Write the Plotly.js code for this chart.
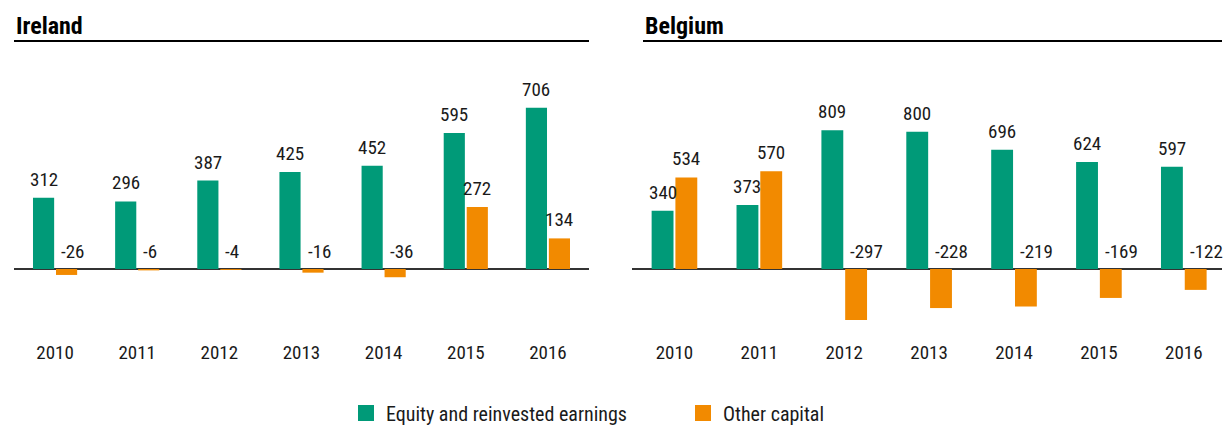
<!DOCTYPE html>
<html>
<head>
<meta charset="utf-8">
<script src="https://cdn.plot.ly/plotly-3.0.1.min.js"></script>
<style>html,body{margin:0;padding:0;background:#fff;}#chart{width:1224px;height:427px;}</style>
</head>
<body>
<div id="chart"></div>
<script>
const years = ['2010', '2011', '2012', '2013', '2014', '2015', '2016'];
const irelandEquity = [312, 296, 387, 425, 452, 595, 706];
const irelandOther = [-26, -6, -4, -16, -36, 272, 134];
const belgiumEquity = [340, 373, 809, 800, 696, 624, 597];
const belgiumOther = [534, 570, -297, -228, -219, -169, -122];
const seriesNames = ['Equity and reinvested earnings', 'Other capital'];
const panelTitles = ['Ireland', 'Belgium'];

const GREEN = '#009A78';
const ORANGE = '#F28A00';
const FONT = 'Roboto Condensed, Liberation Sans, sans-serif';
const W = 1224, H = 427;
const px = v => v / W;
const py = v => 1 - v / H;

function bar(x, y, name, color, xa, ya) {
  return {type: 'bar', x: x, y: y, name: name, marker: {color: color},
    xaxis: xa, yaxis: ya, showlegend: false, hoverinfo: 'none'};
}

const traces = [
  bar(years, irelandEquity, seriesNames[0], GREEN, 'x', 'y'),
  bar(years, irelandOther, seriesNames[1], ORANGE, 'x', 'y'),
  bar(years, belgiumEquity, seriesNames[0], GREEN, 'x2', 'y2'),
  bar(years, belgiumOther, seriesNames[1], ORANGE, 'x2', 'y2'),
  {type: 'scatter', mode: 'markers', x: [null], y: [null], name: seriesNames[0],
   marker: {symbol: 'square', size: 16, color: GREEN}, xaxis: 'x', yaxis: 'y', hoverinfo: 'none'},
  {type: 'scatter', mode: 'markers', x: [null], y: [null], name: seriesNames[1],
   marker: {symbol: 'square', size: 16, color: ORANGE}, xaxis: 'x', yaxis: 'y', hoverinfo: 'none'}
];

function valueLabels(xa, ya, eq, oth, slot) {
  const out = [];
  const font = {family: FONT, size: 19, color: '#1a1a1a'};
  years.forEach((yr, i) => {
    out.push({xref: xa, yref: ya, showarrow: false, yanchor: 'bottom', font: font,
      x: i, y: Math.max(eq[i], 0), text: String(eq[i]), xanchor: 'center', xshift: -slot / 2, yshift: 5});
    const v = oth[i];
    if (v >= 0) {
      out.push({xref: xa, yref: ya, showarrow: false, yanchor: 'bottom', font: font,
        x: i, y: v, text: String(v), xanchor: 'center', xshift: slot / 2, yshift: 5});
    } else {
      out.push({xref: xa, yref: ya, showarrow: false, yanchor: 'bottom', font: font,
        x: i, y: 0, text: String(v), xanchor: 'left', xshift: 4, yshift: 4});
    }
  });
  return out;
}

const xL = [14, 589], xR = [632, 1222];
const yDom = [py(330), py(60)];

const annotations = [
  {xref: 'paper', yref: 'paper', x: px(xL[0]), y: py(42), xanchor: 'left', yanchor: 'bottom',
   text: '<b>' + panelTitles[0] + '</b>', showarrow: false, font: {family: FONT, size: 24, color: '#000'}},
  {xref: 'paper', yref: 'paper', x: px(643), y: py(42), xanchor: 'left', yanchor: 'bottom',
   text: '<b>' + panelTitles[1] + '</b>', showarrow: false, font: {family: FONT, size: 24, color: '#000'}}
].concat(valueLabels('x', 'y', irelandEquity, irelandOther, 23))
 .concat(valueLabels('x2', 'y2', belgiumEquity, belgiumOther, 23.8));

const shapes = [
  {type: 'line', xref: 'paper', yref: 'paper', x0: px(xL[0]), x1: px(xL[1]), y0: py(41), y1: py(41),
   line: {color: '#000', width: 2}},
  {type: 'line', xref: 'paper', yref: 'paper', x0: px(643), x1: px(xR[1]), y0: py(41), y1: py(41),
   line: {color: '#000', width: 2}}
];

function xaxis(dom, range) {
  return {domain: dom, type: 'category', categoryarray: years, range: range, showline: false,
    showgrid: false, zeroline: false, ticks: '', fixedrange: true, ticklabelstandoff: 9,
    tickfont: {family: FONT, size: 19, color: '#1a1a1a'}};
}
function yaxis(range, anchor) {
  return {domain: yDom, range: range, showgrid: false, showticklabels: false, ticks: '',
    zeroline: true, zerolinecolor: '#333', zerolinewidth: 1.5, showline: false, anchor: anchor, fixedrange: true};
}

const layout = {
  width: W, height: H,
  margin: {l: 0, r: 0, t: 0, b: 0, autoexpand: false},
  paper_bgcolor: '#fff', plot_bgcolor: 'rgba(0,0,0,0)',
  barmode: 'group', bargap: 0.44, bargroupgap: 0.08,
  xaxis: Object.assign(xaxis([px(xL[0]), px(xL[1])], [-0.5, 6.5]), {anchor: 'y'}),
  yaxis: yaxis([-267, 915], 'x'),
  xaxis2: Object.assign(xaxis([px(xR[0]), px(xR[1])], [-0.5, 6.45]), {anchor: 'y2'}),
  yaxis2: yaxis([-356, 1219], 'x2'),
  showlegend: true,
  legend: {orientation: 'h', x: px(346), xanchor: 'left', y: py(413), yanchor: 'middle',
    font: {family: FONT, size: 20, color: '#1a1a1a'}, entrywidth: 292, entrywidthmode: 'pixels',
    itemsizing: 'trace', bgcolor: 'rgba(0,0,0,0)'},
  annotations: annotations,
  shapes: shapes,
  font: {family: FONT}
};

Plotly.newPlot('chart', traces, layout, {displayModeBar: false, staticPlot: true});
</script>
</body>
</html>
